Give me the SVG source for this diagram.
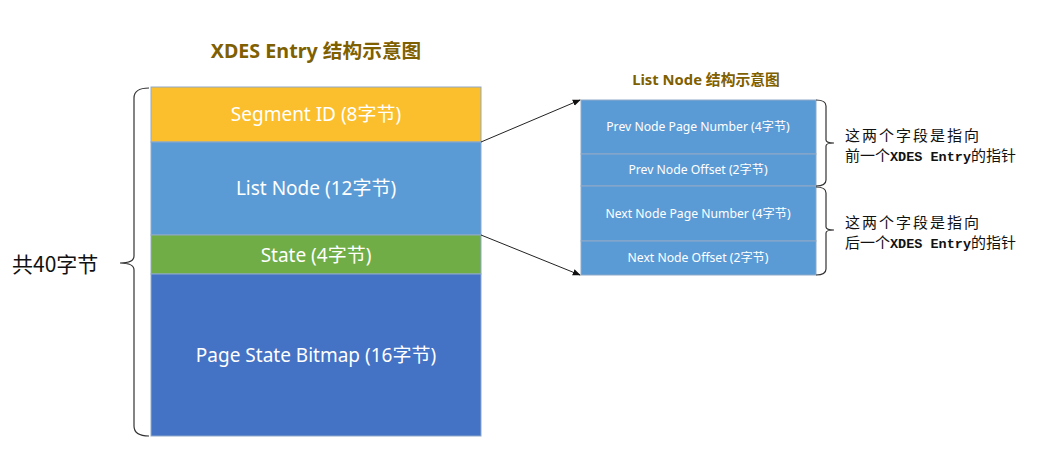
<svg xmlns="http://www.w3.org/2000/svg" width="1059" height="475" viewBox="0 0 1059 475">
<style>
.t{font-family:"Noto Sans","Noto Sans CJK SC",sans-serif;fill:#fff;text-anchor:middle}
.title{font-family:"Noto Sans","Noto Sans CJK SC",sans-serif;font-weight:bold;fill:#7F6000;text-anchor:middle}
.cell{stroke:#8FA9C8;stroke-width:1}
.brace{fill:none;stroke:#333;stroke-width:1.2}
.note{font-family:"Liberation Mono","Noto Sans CJK SC",monospace;font-size:15px;fill:#111}
.lat{font-size:13.5px;font-weight:bold}
.conn{stroke:#222;stroke-width:1;fill:none}
</style>
<defs>
<marker id="ah" viewBox="0 0 10 10" refX="9" refY="5" markerWidth="8" markerHeight="8" orient="auto"><path d="M0,1 L10,5 L0,9 z" fill="#111"/></marker>
</defs>
<rect width="1059" height="475" fill="#fff"/>
<text class="title" x="316" y="58" font-size="19.7">XDES Entry 结构示意图</text>
<text class="title" x="706" y="85" font-size="14.8">List Node 结构示意图</text>
<g id="xdes">
<g id="segment"><rect class="cell" x="151" y="87" width="330" height="55" fill="#FBBF2D" stroke="#C9A24A"/><text class="t" x="316" y="121" font-size="19">Segment ID (8字节)</text></g>
<g id="listnode"><rect class="cell" x="151" y="142" width="330" height="93" fill="#5B9BD5"/><text class="t" x="316" y="195" font-size="19">List Node (12字节)</text></g>
<g id="state"><rect class="cell" x="151" y="235" width="330" height="39" fill="#70AD47" stroke="#5E8F3E"/><text class="t" x="316" y="262" font-size="19">State (4字节)</text></g>
<g id="bitmap"><rect class="cell" x="151" y="274" width="330" height="162" fill="#4472C4"/><text class="t" x="316" y="362" font-size="19">Page State Bitmap (16字节)</text></g>
</g>
<g id="brace-total">
<path class="brace" d="M149,88 Q134,88 134,98 L134,256 Q134,263 120,263 Q134,263 134,270 L134,426 Q134,436 149,436"/>
<text x="12" y="272" font-family="Noto Sans CJK SC,sans-serif" font-size="21" fill="#111">共40字节</text>
</g>
<g id="listnode-detail">
<g id="prev-page"><rect class="cell" x="581" y="100" width="235" height="54" fill="#5B9BD5"/><text class="t" x="698" y="131" font-size="12.2">Prev Node Page Number (4字节)</text></g>
<g id="prev-offset"><rect class="cell" x="581" y="154" width="235" height="32" fill="#5B9BD5"/><text class="t" x="698" y="174" font-size="12.2">Prev Node Offset (2字节)</text></g>
<g id="next-page"><rect class="cell" x="581" y="186" width="235" height="55" fill="#5B9BD5"/><text class="t" x="698" y="218" font-size="12.2">Next Node Page Number (4字节)</text></g>
<g id="next-offset"><rect class="cell" x="581" y="241" width="235" height="34" fill="#5B9BD5"/><text class="t" x="698" y="262" font-size="12.2">Next Node Offset (2字节)</text></g>
</g>
<g id="brace-prev">
<path class="brace" d="M816,100 Q826,100 826,106 L826,140 Q826,143 834,143 Q826,143 826,146 L826,180 Q826,186 816,186"/>
<text class="note" x="845" y="141" letter-spacing="2">这两个字段是指向</text>
<text class="note" x="845" y="161">前一个<tspan class="lat">XDES Entry</tspan>的指针</text>
</g>
<g id="brace-next">
<path class="brace" d="M816,187 Q826,187 826,193 L826,227 Q826,230 834,230 Q826,230 826,233 L826,269 Q826,275 816,275"/>
<text class="note" x="845" y="228" letter-spacing="2">这两个字段是指向</text>
<text class="note" x="845" y="248">后一个<tspan class="lat">XDES Entry</tspan>的指针</text>
</g>
<g id="connectors">
<line class="conn" x1="481" y1="142" x2="580" y2="100" marker-end="url(#ah)"/>
<line class="conn" x1="481" y1="235" x2="580" y2="275" marker-end="url(#ah)"/>
</g>
</svg>
